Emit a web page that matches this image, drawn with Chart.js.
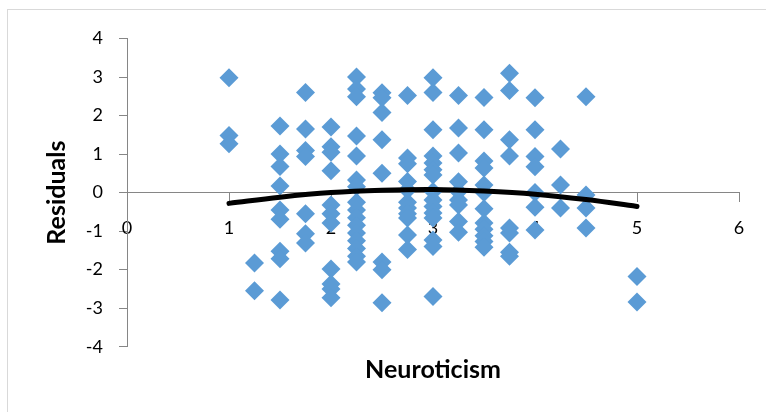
<!DOCTYPE html>
<html lang="en">
<head>
  <meta charset="UTF-8">
  <title>Residuals vs Neuroticism</title>
  <script src="https://cdn.jsdelivr.net/npm/chart.js"></script>
  <style>
    html, body { margin: 0; padding: 0; background: #fff; overflow: hidden; }
    .wrap { position: relative; width: 766px; height: 412px; }
    .frame { position: absolute; left: 7px; top: 9px; width: 800px; height: 450px; border: 1px solid #d9d9d9; box-sizing: border-box; }
    canvas { position: absolute; left: 0; top: 0; }
  </style>
</head>
<body>
  <div class="wrap">
    <div class="frame"></div>
    <canvas id="grafico" width="766" height="412"></canvas>
  </div>

  <script>
    // scatter points, one entry per diamond (x = neuroticism score, y = residual)
    const neuroticism = [
      1, 1, 1,
      1.25, 1.25,
      1.5, 1.5, 1.5, 1.5, 1.5, 1.5, 1.5, 1.5, 1.5,
      1.75, 1.75, 1.75, 1.75, 1.75, 1.75, 1.75,
      2, 2, 2, 2, 2, 2, 2, 2, 2, 2, 2,
      2.25, 2.25, 2.25, 2.25, 2.25, 2.25, 2.25, 2.25, 2.25, 2.25, 2.25, 2.25, 2.25, 2.25, 2.25, 2.25,
      2.5, 2.5, 2.5, 2.5, 2.5, 2.5, 2.5, 2.5,
      2.75, 2.75, 2.75, 2.75, 2.75, 2.75, 2.75, 2.75, 2.75, 2.75, 2.75,
      3, 3, 3, 3, 3, 3, 3, 3, 3, 3, 3, 3, 3, 3, 3,
      3.25, 3.25, 3.25, 3.25, 3.25, 3.25, 3.25, 3.25, 3.25,
      3.5, 3.5, 3.5, 3.5, 3.5, 3.5, 3.5, 3.5, 3.5, 3.5, 3.5, 3.5,
      3.75, 3.75, 3.75, 3.75, 3.75, 3.75, 3.75, 3.75,
      4, 4, 4, 4, 4, 4, 4,
      4.25, 4.25, 4.25,
      4.5, 4.5, 4.5, 4.5,
      5, 5
    ];
    const residuals = [
      2.98, 1.48, 1.27,
      -1.83, -2.55,
      1.73, 1.0, 0.68, 0.17, -0.45, -0.69, -1.52, -1.72, -2.79,
      2.6, 1.65, 1.09, 0.94, -0.55, -1.07, -1.31,
      1.7, 1.19, 1.05, 0.57, -0.32, -0.55, -0.79, -1.98, -2.37, -2.5, -2.73,
      3.0, 2.69, 2.49, 1.47, 0.95, 0.33, 0.15, -0.25, -0.45, -0.65, -0.85, -1.05, -1.25, -1.45, -1.65, -1.8,
      2.59, 2.46, 2.08, 1.37, 0.5, -1.8, -2.0, -2.86,
      2.52, 0.9, 0.75, 0.29, 0.07, -0.25, -0.4, -0.55, -0.66, -1.1, -1.48,
      2.98, 2.6, 1.63, 0.95, 0.77, 0.59, 0.46, 0.03, -0.19, -0.36, -0.53, -0.66, -1.23, -1.4, -2.7,
      2.52, 1.68, 1.03, 0.28, 0.03, -0.19, -0.32, -0.75, -1.03,
      2.47, 1.63, 0.82, 0.64, 0.2, 0.0, -0.42, -0.79, -0.95, -1.12, -1.27, -1.42,
      3.1, 2.65, 1.37, 0.95, -0.92, -1.05, -1.55, -1.65,
      2.46, 1.63, 0.94, 0.67, 0.0, -0.38, -0.97,
      1.13, 0.2, -0.4,
      2.49, -0.06, -0.4, -0.92,
      -2.18, -2.84
    ];

    // black trend curve
    const trendX = [1, 1.5, 2, 2.5, 3, 3.5, 4, 4.5, 5];
    const trendY = [-0.28, -0.12, 0.0, 0.06, 0.08, 0.04, -0.04, -0.18, -0.36];

    const xTicks = [0, 1, 2, 3, 4, 5, 6];
    const yTicks = [-4, -3, -2, -1, 0, 1, 2, 3, 4];

    const axisGray = '#868686';
    const blue = '#5b9bd5';
    const tickFont = { family: 'Lato', size: 18 };
    const titleFont = { family: 'Lato', size: 25, weight: 'bold' };

    const pontos = neuroticism.map((x, i) => ({ x, y: residuals[i] }));
    const curva = trendX.map((x, i) => ({ x, y: trendY[i] }));

    new Chart(document.getElementById('grafico'), {
      type: 'scatter',
      data: {
        datasets: [
          {
            type: 'line',
            data: curva,
            borderColor: '#000',
            borderWidth: 5,
            borderCapStyle: 'round',
            tension: 0.4,
            pointRadius: 0,
            fill: false,
            order: 0
          },
          {
            data: pontos,
            pointStyle: 'rectRot',
            pointRadius: 9.5,
            pointHoverRadius: 9.5,
            backgroundColor: blue,
            borderColor: blue,
            borderWidth: 0,
            order: 1
          }
        ]
      },
      options: {
        responsive: false,
        animation: false,
        events: [],
        layout: { padding: { left: 0, right: 27, top: 38.5, bottom: 0 } },
        plugins: { legend: { display: false }, tooltip: { enabled: false } },
        scales: {
          x: {
            type: 'linear',
            position: { y: 0 },
            z: 1, // Excel prints the category numbers over the markers
            min: xTicks[0],
            max: xTicks[xTicks.length - 1],
            afterBuildTicks: s => { s.ticks = xTicks.map(v => ({ value: v })); },
            border: { color: axisGray, width: 1 },
            grid: { drawOnChartArea: false, drawTicks: true, tickLength: 9, color: axisGray },
            ticks: { color: '#000', font: tickFont, padding: 16, maxRotation: 0 }
          },
          xTitle: {
            type: 'linear',
            position: 'bottom',
            min: 0,
            max: 6,
            border: { display: false },
            grid: { display: false, drawTicks: false },
            ticks: { display: false },
            title: { display: true, text: 'Neuroticism', color: '#000', font: titleFont, padding: { top: 0, bottom: 27 } },
            afterFit: s => { s.height = 412 - 346.7; }
          },
          y: {
            type: 'linear',
            position: 'left',
            min: yTicks[0],
            max: yTicks[yTicks.length - 1],
            afterBuildTicks: s => { s.ticks = yTicks.map(v => ({ value: v })); },
            border: { color: axisGray, width: 1 },
            grid: { drawOnChartArea: false, drawTicks: true, tickLength: 8, color: axisGray },
            ticks: { color: '#000', font: tickFont, padding: 16 },
            title: { display: true, text: 'Residuals', color: '#000', font: titleFont, padding: { top: 42, bottom: 0 } },
            afterFit: s => { s.width = 127; }
          }
        }
      }
    });
  </script>
</body>
</html>
